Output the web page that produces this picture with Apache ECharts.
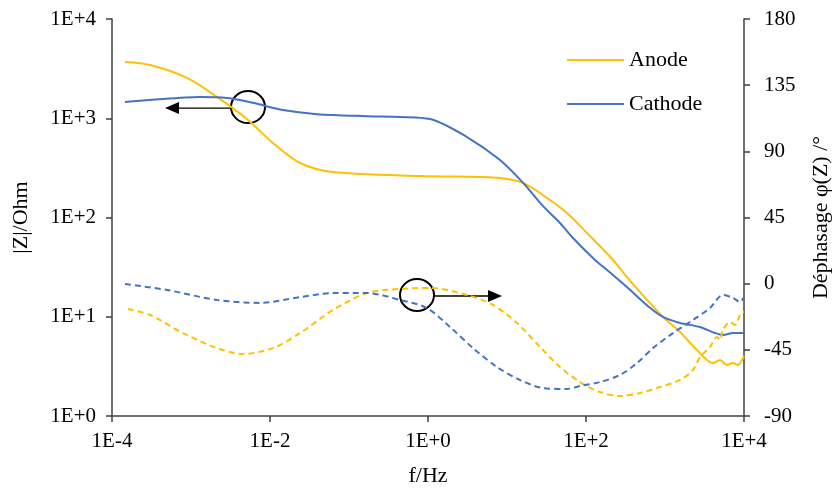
<!DOCTYPE html>
<html>
<head>
<meta charset="utf-8">
<script src="https://cdn.jsdelivr.net/npm/echarts@6/dist/echarts.min.js"></script>
<style>
  html, body { margin: 0; padding: 0; background: #fff; }
  #chart { width: 833px; height: 488px; }
</style>
</head>
<body>
<div id="chart"></div>
<script>
// |Z| anode
var anodeFreq = [1.46e-4, 3.03e-4, 8.9e-4, 2.13e-3, 5.27e-3, 0.0109, 0.024, 0.0627, 0.79, 4.55, 8.15, 16.0, 35.0, 57.4, 103, 220, 330, 592, 943, 1550, 2540, 4050, 4970, 6090, 7260, 8400, 10000];
var anodeZ = [3690, 3440, 2550, 1640, 960, 563, 354, 287, 262, 256, 250, 223, 150, 111, 69.8, 37.3, 25.1, 14.8, 9.95, 7.02, 4.62, 3.42, 3.66, 3.27, 3.42, 3.27, 4.03];

// |Z| cathode
var cathodeFreq = [1.46e-4, 3.03e-4, 1.30e-3, 2.86e-3, 6.1e-3, 0.0146, 0.0394, 0.169, 0.443, 1.06, 3.12, 8.15, 16.0, 28.6, 46.9, 66.5, 130, 185, 330, 646, 943, 1550, 2770, 4300, 5420, 7260, 10000];
var cathodeZ = [1460, 1530, 1640, 1600, 1430, 1210, 1100, 1050, 1030, 982, 647, 379, 223, 130, 88.1, 63.7, 37.3, 29.6, 19.9, 12.3, 9.95, 8.66, 7.89, 6.86, 6.55, 6.86, 6.86];

// phase anode
var anodePhFreq = [1.59e-4, 3.03e-4, 7.9e-4, 2.13e-3, 4.55e-3, 0.0109, 0.024, 0.0627, 0.169, 0.443, 1.06, 3.12, 6.65, 13.4, 26.2, 46.9, 84, 150, 269, 483, 865, 1550, 2260, 2770, 3710, 4550, 4970, 5420, 6650, 7690, 9440, 10000];
var anodePhase = [-17.2, -21.3, -33.6, -43.8, -47.8, -43.8, -33.6, -17.9, -6.3, -3.6, -2.9, -7.7, -14.5, -26.8, -43.1, -56.7, -66.9, -73.7, -76.4, -74.4, -70.3, -65.5, -58.7, -49.9, -43.1, -36.3, -38.3, -31.5, -26.1, -28.1, -19.3, -19.3];

// phase cathode
var cathodePhFreq = [1.46e-4, 4.97e-4, 2.13e-3, 7.46e-3, 0.024, 0.0627, 0.169, 0.443, 0.97, 1.90, 3.71, 7.46, 14.6, 28.6, 57.4, 84, 150, 269, 442, 705, 1260, 2260, 3710, 5420, 7260, 8890, 10000];
var cathodePhase = [-0.2, -4.3, -11.1, -13.1, -9.1, -6.4, -6.4, -11.1, -16.6, -29.5, -43.8, -56.7, -65.5, -71.0, -71.6, -69.6, -66.9, -62.1, -54.0, -43.8, -33.6, -24.7, -16.5, -7.7, -9.7, -12.5, -9.1];

var freqTicks = [1e-4, 1e-2, 1, 1e2, 1e4];

// annotations: [freq, value, arrow end freq]
var markZ = [5.27e-3, 1297, 4.69e-4];
var markPhase = [0.726, -7.7, 8.65];

var font = 'Liberation Serif, Times New Roman, serif';
var axisColor = '#404040';

function pairs(xs, ys) {
    return xs.map(function (x, i) { return [x, ys[i]]; });
}

function expLabel(v) {
    var e = Math.round(Math.log(v) / Math.LN10);
    return '1E' + (e < 0 ? '-' : '+') + Math.abs(e);
}

var chart = echarts.init(document.getElementById('chart'));

var option = {
    animation: false,
    textStyle: { fontFamily: font, color: '#000' },
    grid: { left: 112, right: 89, top: 19, bottom: 72, outerBoundsMode: 'none' },
    legend: {
        data: ['Anode', 'Cathode'],
        orient: 'vertical',
        left: 562,
        top: 44,
        icon: 'rect',
        itemWidth: 57,
        itemHeight: 2,
        itemGap: 22,
        textStyle: { fontFamily: font, fontSize: 22, color: '#000' }
    },
    xAxis: {
        type: 'log',
        logBase: 10,
        min: 1e-4,
        max: 1e4,
        name: 'f/Hz',
        nameLocation: 'middle',
        nameGap: 49,
        nameTextStyle: { fontFamily: font, fontSize: 22, color: '#000' },
        axisLine: { onZero: false, lineStyle: { color: axisColor, width: 1.5 } },
        axisTick: { show: true, length: 6, lineStyle: { color: axisColor, width: 1.5 }, customValues: freqTicks },
        axisLabel: { fontFamily: font, fontSize: 21, color: '#000', margin: 15, customValues: freqTicks, formatter: expLabel },
        splitLine: { show: false },
        minorTick: { show: false }
    },
    yAxis: [
        {
            type: 'log',
            logBase: 10,
            min: 1,
            max: 1e4,
            name: '|Z|/Ohm',
            nameLocation: 'middle',
            nameRotate: 90,
            nameGap: 80,
            nameTextStyle: { fontFamily: font, fontSize: 22, color: '#000' },
            axisLine: { show: true, onZero: false, lineStyle: { color: axisColor, width: 1.5 } },
            axisTick: { show: true, length: 6, lineStyle: { color: axisColor, width: 1.5 } },
            axisLabel: { fontFamily: font, fontSize: 21, color: '#000', margin: 16, formatter: expLabel },
            splitLine: { show: false }
        },
        {
            type: 'value',
            min: -90,
            max: 180,
            interval: 45,
            position: 'right',
            name: 'Déphasage φ(Z) /°',
            nameLocation: 'middle',
            nameRotate: 90,
            nameGap: 66,
            nameTextStyle: { fontFamily: font, fontSize: 22, color: '#000' },
            axisLine: { show: true, onZero: false, lineStyle: { color: axisColor, width: 1.5 } },
            axisTick: { show: true, length: 6, lineStyle: { color: axisColor, width: 1.5 } },
            axisLabel: { fontFamily: font, fontSize: 21, color: '#000', margin: 20 },
            splitLine: { show: false }
        }
    ],
    series: [
        {
            name: 'Anode', type: 'line', yAxisIndex: 0, symbol: 'none', smooth: 0.3,
            data: pairs(anodeFreq, anodeZ),
            itemStyle: { color: '#FFC000' },
            lineStyle: { color: '#FFC000', width: 2 }
        },
        {
            name: 'Cathode', type: 'line', yAxisIndex: 0, symbol: 'none', smooth: 0.3,
            data: pairs(cathodeFreq, cathodeZ),
            itemStyle: { color: '#4472C4' },
            lineStyle: { color: '#4472C4', width: 2 }
        },
        {
            name: 'Anode φ', type: 'line', yAxisIndex: 1, symbol: 'none', smooth: 0.3,
            data: pairs(anodePhFreq, anodePhase),
            itemStyle: { color: '#FFC000' },
            lineStyle: { color: '#FFC000', width: 2, type: [6, 4] }
        },
        {
            name: 'Cathode φ', type: 'line', yAxisIndex: 1, symbol: 'none', smooth: 0.3,
            data: pairs(cathodePhFreq, cathodePhase),
            itemStyle: { color: '#4472C4' },
            lineStyle: { color: '#4472C4', width: 2, type: [6, 4] }
        }
    ]
};

chart.setOption(option);

// ellipse + arrow annotations, placed via the axes
function annotation(seriesIndex, mark, dir) {
    var c = chart.convertToPixel({ seriesIndex: seriesIndex }, [mark[0], mark[1]]);
    var end = chart.convertToPixel({ seriesIndex: seriesIndex }, [mark[2], mark[1]]);
    var rx = 17, ry = 16, head = 14, half = 6;
    var y = c[1] + 1;
    var startX = c[0] + dir * rx;
    return [
        {
            type: 'line',
            shape: { x1: startX, y1: y, x2: end[0] - dir * head, y2: y },
            style: { stroke: '#000', lineWidth: 1.3 }
        },
        {
            type: 'polygon',
            shape: { points: [[end[0], y], [end[0] - dir * head, y - half], [end[0] - dir * head, y + half]] },
            style: { fill: '#000' }
        },
        {
            type: 'ellipse',
            shape: { cx: c[0], cy: c[1], rx: rx, ry: ry },
            style: { fill: null, stroke: '#000', lineWidth: 2 }
        }
    ];
}

chart.setOption({
    graphic: annotation(0, markZ, -1).concat(annotation(2, markPhase, 1))
});
</script>
</body>
</html>
